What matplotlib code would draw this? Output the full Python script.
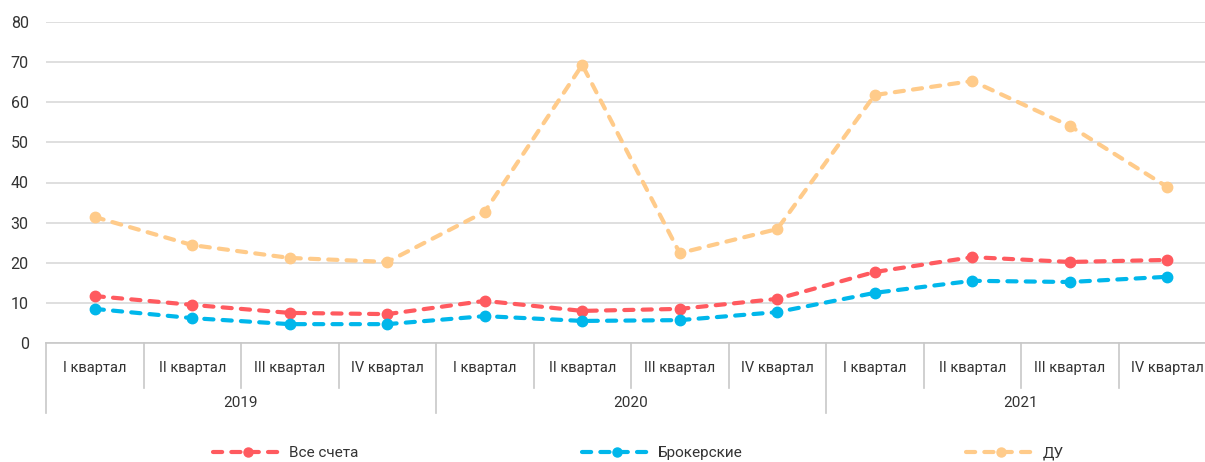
import matplotlib
matplotlib.use('Agg')
import matplotlib.pyplot as plt
import matplotlib.transforms as mtransforms

plt.rcParams['font.family'] = ['Roboto', 'DejaVu Sans']

quarters = ['I квартал', 'II квартал', 'III квартал', 'IV квартал'] * 3
years = ['2019', '2020', '2021']
vse_scheta = [11.7, 9.5, 7.5, 7.2, 10.5, 8.0, 8.5, 11.0, 17.7, 21.4, 20.2, 20.7]
brokerskie = [8.5, 6.2, 4.7, 4.7, 6.7, 5.5, 5.7, 7.7, 12.5, 15.5, 15.2, 16.5]
du = [31.4, 24.4, 21.2, 20.2, 32.7, 69.3, 22.4, 28.4, 61.8, 65.3, 54.1, 38.9]

series = [
    ('Все счета', vse_scheta, '#FF5A5F'),
    ('Брокерские', brokerskie, '#00B7EB'),
    ('ДУ', du, '#FFCB8A'),
]

W, H = 1205, 462
fig = plt.figure(figsize=(W / 100, H / 100), dpi=100)
ax = fig.add_axes([46 / W, (H - 343) / H, 1170 / W, 321 / H])

x = list(range(len(quarters)))
for name, vals, col in series:
    ax.plot(x, vals, color=col, lw=3, dashes=(2.2, 2.2), dash_capstyle='round',
            marker='o', markersize=7.5, label=name, clip_on=False, zorder=3)

ax.set_xlim(-0.5, len(quarters) - 0.5)
ax.set_ylim(0, 80)
ax.set_yticks(range(0, 81, 10))
ax.yaxis.grid(True, color='#D9D9D9', lw=1.2)
ax.set_axisbelow(True)
for s in ['top', 'right', 'left']:
    ax.spines[s].set_visible(False)
ax.spines['bottom'].set_color('#C8C8C8')
ax.spines['bottom'].set_linewidth(1.2)
ax.tick_params(axis='y', length=0, pad=12.5, labelsize=11.5, labelcolor='#333333')
ax.set_xticks([])

# two-level category axis drawn by hand
trans = mtransforms.blended_transform_factory(ax.transData, ax.transAxes)
for i in range(len(quarters) + 1):
    bottom = -0.218 if i % 4 == 0 else -0.14
    ax.plot([i - 0.5, i - 0.5], [0, bottom], transform=trans, color='#C8C8C8',
            lw=1.2, clip_on=False)
for i, q in enumerate(quarters):
    ax.text(i, -0.078, q, transform=trans, ha='center', va='center',
            fontsize=10.5, color='#333333')
for j, y in enumerate(years):
    ax.text(4 * j + 1.5, -0.187, y, transform=trans, ha='center', va='center',
            fontsize=11, color='#333333')

leg = fig.legend(loc='center', bbox_to_anchor=(638 / W, (H - 453) / H), ncol=3,
                 frameon=False, handlelength=4.6, handletextpad=0.4,
                 columnspacing=14.6, fontsize=11, labelcolor='#333333')
for h in leg.legend_handles:
    h.set_markersize(6.5)

fig.savefig('out.png', dpi=100)
